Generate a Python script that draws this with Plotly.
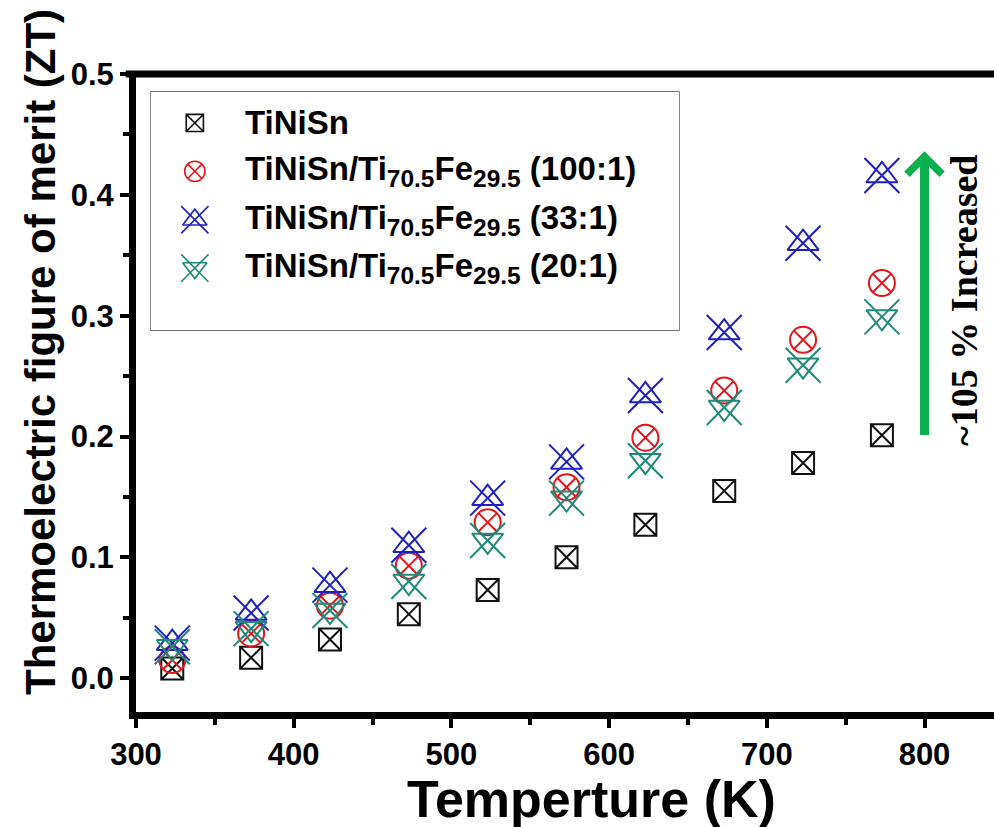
import plotly.graph_objects as go

temperature = [323, 373, 423, 473, 523, 573, 623, 673, 723, 773]
zt_tinisn = [0.008, 0.017, 0.032, 0.053, 0.073, 0.100, 0.127, 0.155, 0.178, 0.201]
zt_100 = [0.015, 0.037, 0.060, 0.093, 0.129, 0.158, 0.199, 0.238, 0.280, 0.327]
zt_33 = [0.029, 0.054, 0.077, 0.110, 0.149, 0.179, 0.234, 0.286, 0.360, 0.416]
zt_20 = [0.026, 0.041, 0.056, 0.080, 0.114, 0.149, 0.180, 0.224, 0.259, 0.299]

SUB = "<span style='font-size:35px'><sub>{}</sub></span>"
legend_labels = [
    "TiNiSn",
    "TiNiSn/Ti" + SUB.format("70.5") + "Fe" + SUB.format("29.5") + " (100:1)",
    "TiNiSn/Ti" + SUB.format("70.5") + "Fe" + SUB.format("29.5") + " (33:1)",
    "TiNiSn/Ti" + SUB.format("70.5") + "Fe" + SUB.format("29.5") + " (20:1)",
]

BLACK = "#111111"
RED = "#e3161c"
BLUE = "#2020c0"
GREEN = "#1f8a78"
ARROW_GREEN = "#0bb04f"

glyphs = [
    [("square-x-open", 22)],
    [("circle-x-open", 26)],
    [("triangle-up-open", 27), ("x-thin-open", 35)],
    [("triangle-down-open", 27), ("x-thin-open", 35)],
]
colors = [BLACK, RED, BLUE, GREEN]
series = [zt_tinisn, zt_100, zt_33, zt_20]

fig = go.Figure()

for vals, gl, col in zip(series, glyphs, colors):
    for sym, sz in gl:
        fig.add_trace(go.Scatter(
            x=temperature, y=vals, mode="markers", showlegend=False,
            marker=dict(symbol=sym, size=sz, color=col,
                        line=dict(color=col, width=2)),
            xaxis="x", yaxis="y", hoverinfo="skip"))

rows = list(range(len(legend_labels)))
for r, gl, col in zip(rows, glyphs, colors):
    for sym, sz in gl:
        fig.add_trace(go.Scatter(
            x=[0.083], y=[r], mode="markers", showlegend=False,
            marker=dict(symbol=sym, size=sz * 0.78, color=col,
                        line=dict(color=col, width=1.6)),
            xaxis="x2", yaxis="y2", hoverinfo="skip"))
    fig.add_annotation(x=0.175, y=r, xref="x2", yref="y2", text=legend_labels[r],
                       showarrow=False, xanchor="left", yanchor="middle",
                       font=dict(family="Liberation Sans", size=33, color="black",
                                 weight="bold"))

L, T, B = 136, 74, 115
W, H = 994, 827
pw = W - L
ph = H - T - B

def px_x(p):
    return (p - L) / pw

def px_y(p):
    return (H - B - p) / ph

TICKFONT = dict(family="Liberation Sans", size=31, color="black", weight="bold")

fig.update_layout(
    width=W, height=H,
    margin=dict(l=L, r=0, t=T, b=B),
    paper_bgcolor="white", plot_bgcolor="white",
    showlegend=False,
    xaxis=dict(range=[300, 300 + pw / 1.577], tick0=300, dtick=100,
               showgrid=False, zeroline=False, showline=True, linecolor="black",
               linewidth=7, ticks="outside", ticklen=9, tickwidth=4, tickcolor="black",
               tickfont=TICKFONT,
               minor=dict(dtick=50, ticks="outside", ticklen=6, tickwidth=4, tickcolor="black")),
    yaxis=dict(range=[-0.028, 0.5], tick0=0, dtick=0.1, tickformat=".1f",
               showgrid=False, zeroline=False, showline=True, linecolor="black",
               linewidth=7, ticks="outside", ticklen=9, tickwidth=4, tickcolor="black",
               tickfont=TICKFONT,
               minor=dict(dtick=0.05, ticks="outside", ticklen=6, tickwidth=4, tickcolor="black")),
    xaxis2=dict(domain=[px_x(151), px_x(679)], range=[0, 1], anchor="y2",
                visible=False, fixedrange=True),
    yaxis2=dict(domain=[px_y(330), px_y(92)], range=[4.28, -0.64], anchor="x2",
                visible=False, fixedrange=True),
)

fig.add_shape(type="line", xref="paper", yref="paper", x0=-0.012, x1=1.0, y0=1, y1=1,
              line=dict(color="black", width=7), layer="above")
fig.add_shape(type="rect", xref="paper", yref="paper",
              x0=px_x(151), x1=px_x(679), y0=px_y(330), y1=px_y(92),
              line=dict(color="#444444", width=1.3), layer="below")

fig.add_annotation(x=800, y=0.436, ax=800, ay=0.2, xref="x", yref="y", axref="x", ayref="y",
                   text="", showarrow=True, arrowhead=4, arrowsize=0.75, arrowwidth=9,
                   arrowcolor=ARROW_GREEN)
fig.add_annotation(x=825, y=0.313, xref="x", yref="y", text="~105 % Increased",
                   textangle=-90, showarrow=False, xanchor="center", yanchor="middle",
                   font=dict(family="Liberation Serif", size=38, color="black", weight="bold"))

fig.add_annotation(x=px_x(591), y=px_y(799), xref="paper", yref="paper",
                   text="Temperture (K)", showarrow=False, xanchor="center", yanchor="middle",
                   font=dict(family="Liberation Sans", size=52, color="black", weight="bold"))
fig.add_annotation(x=px_x(40), y=px_y(352), xref="paper", yref="paper",
                   text="Thermoelectric figure of merit (ZT)", textangle=-90,
                   showarrow=False, xanchor="center", yanchor="middle",
                   font=dict(family="Liberation Sans", size=42, color="black", weight="bold"))

fig.write_html("out.html", config={"displayModeBar": False},
               post_script="document.body.style.margin='0px';")
